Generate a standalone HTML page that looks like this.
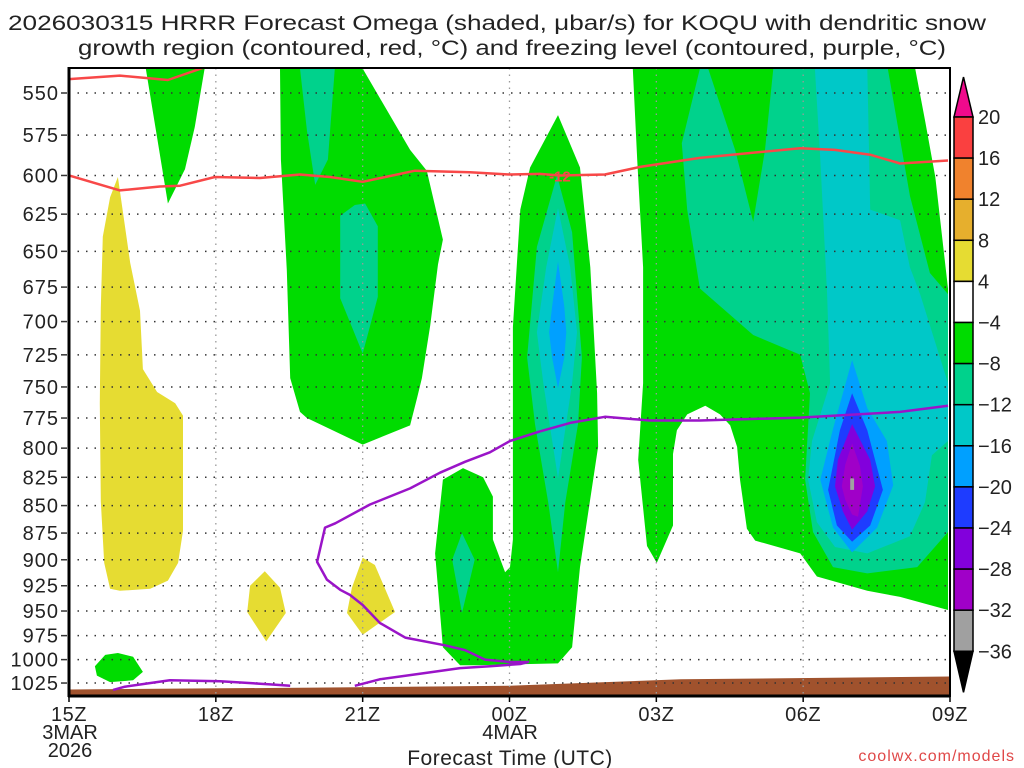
<!DOCTYPE html>
<html><head><meta charset="utf-8"><style>
html,body{margin:0;padding:0;background:#fff;}
svg{display:block;font-family:"Liberation Sans",sans-serif;}
</style></head><body>
<svg id="chart" width="1024" height="768" viewBox="0 0 1024 768" xmlns="http://www.w3.org/2000/svg">
<text x="8" y="30" font-size="21" fill="#222" textLength="978" lengthAdjust="spacingAndGlyphs">2026030315 HRRR Forecast Omega (shaded, μbar/s) for KOQU with dendritic snow</text>
<text x="78" y="55" font-size="21" fill="#222" textLength="868" lengthAdjust="spacingAndGlyphs">growth region (contoured, red, °C) and freezing level (contoured, purple, °C)</text>
<g id="plot"></g>
<g id="axes"></g>
<g id="cbar"></g>
<text x="510" y="765" font-size="21" fill="#222" text-anchor="middle" letter-spacing="0.5">Forecast Time (UTC)</text>
<text x="1015" y="761" font-size="16" fill="#e04848" text-anchor="end" letter-spacing="1">coolwx.com/models</text>
</svg>
<script>
// ---- data ----
const pressureTicks = [550,575,600,625,650,675,700,725,750,775,800,825,850,875,900,925,950,975,1000,1025];
const timeTicks = [0,3,6,9,12,15,18];
const timeLabels = ["15Z","18Z","21Z","00Z","03Z","06Z","09Z"];
const cbarLevels = [20,16,12,8,4,-4,-8,-12,-16,-20,-24,-28,-32,-36];
const cbarColors = ["#fa4040","#f0822d","#e6af2d","#e6dc32","#ffffff","#00dc00","#00d28c","#00c8c8","#00a0ff","#1e3cff","#8200dc","#a000c8","#a0a0a0"];
// terrain surface pressure [hour, hPa]
const terrain = [[0,1032],[5,1030],[9,1028],[12.5,1021],[18,1018]];
// shaded omega regions: [[hour, hPa],...]
const yellowLeft = [[1.0,601],[1.25,658],[1.45,692],[1.51,736],[1.8,754],[2.17,763],[2.33,773],[2.33,873],[2.23,903],[2.02,920],[1.66,928],[1.04,930],[0.84,928],[0.72,903],[0.65,846],[0.63,763],[0.65,690],[0.69,640],[0.84,614]];
const yellow18 = [[4.0,911],[4.31,927],[4.43,952],[4.03,981],[3.64,951],[3.7,925]];
const yellow21 = [[6.0,898],[6.25,905],[6.66,951],[6.0,974],[5.68,952],[5.78,927]];
const greenTopLeft = [[1.57,536],[2.77,536],[2.57,570],[2.37,596],[2.02,618]];
const greenSmall = [[0.53,1007],[0.74,995],[1.0,993],[1.31,997],[1.51,1013],[1.31,1022],[0.84,1024],[0.57,1017]];
const greenMid = [[4.31,536],[6.0,536],[6.97,584],[7.31,597],[7.64,642],[7.54,659],[7.38,703],[7.21,743],[7.11,759],[6.97,781],[6.0,797],[4.86,775],[4.72,770],[4.52,743],[4.45,663],[4.33,590]];
const tealMidTop = [[4.72,536],[5.43,536],[5.29,590],[5.03,606],[4.86,572]];
const tealMid = [[5.54,626],[5.84,619],[6.05,618],[6.31,633],[6.31,682],[6.0,724],[5.54,683]];
const green00 = [[9.99,563],[10.44,595],[10.65,661],[10.79,755],[10.81,799],[10.44,907],[10.28,987],[9.99,1004],[8.3,1006],[7.99,1006],[7.64,987],[7.48,894],[7.64,827],[8.05,817],[8.46,825],[8.66,842],[8.66,881],[8.91,912],[9.01,907],[9.07,881],[9.07,755],[9.07,704],[9.22,622],[9.42,595]];
const teal23 = [[8.03,875],[8.29,900],[8.03,952],[7.83,900]];
const teal00 = [[9.97,600],[10.28,637],[10.48,727],[10.4,780],[10.14,847],[9.99,912],[9.79,847],[9.52,780],[9.36,727],[9.56,647]];
const cyan00 = [[9.99,621],[10.24,661],[10.38,708],[10.28,747],[9.99,826],[9.69,747],[9.56,708],[9.75,661]];
const blue00 = [[9.99,657],[10.12,689],[10.16,708],[10.12,727],[9.99,751],[9.87,727],[9.81,708],[9.87,689]];
const greenRight = [[11.52,536],[17.29,536],[17.49,566],[17.7,601],[17.96,676],[17.96,949],[16.98,936],[16.31,930],[15.28,916],[14.94,894],[14.02,882],[13.85,871],[13.71,827],[13.65,799],[13.51,781],[13.3,772],[13.0,765],[12.63,772],[12.42,785],[12.34,805],[12.34,868],[12.01,903],[11.81,887],[11.63,810],[11.73,747],[11.73,661],[11.61,590]];
const tealRight = [[12.89,536],[13.06,536],[13.61,584],[13.98,630],[14.22,584],[14.39,536],[16.73,536],[17.18,613],[17.59,665],[17.96,680],[17.96,874],[17.33,907],[16.31,913],[15.61,907],[15.2,874],[15.04,827],[15.14,755],[14.94,725],[13.98,710],[12.89,676],[12.63,622],[12.52,580]];
const cyanRight = [[15.24,536],[16.31,536],[16.37,622],[16.98,629],[17.18,661],[17.39,680],[17.96,747],[17.96,794],[17.63,806],[17.49,847],[17.18,878],[16.31,894],[15.65,888],[15.28,865],[15.1,827],[15.18,794],[15.55,747],[15.49,680],[15.35,590]];
const blueRight = [[16.0,729],[16.31,767],[16.71,794],[16.84,832],[16.51,870],[16.0,893],[15.61,870],[15.35,827],[15.61,784]];
const dblueRight = [[16.0,755],[16.31,785],[16.63,836],[16.37,868],[16.0,883],[15.69,868],[15.51,836],[15.75,785]];
const purpleRight = [[16.0,780],[16.37,810],[16.47,833],[16.31,855],[16.0,872],[15.81,855],[15.65,833],[15.71,810]];
const magentaRight = [[16.0,796],[16.16,815],[16.22,833],[16.12,860],[16.0,858],[15.86,845],[15.79,833],[15.86,814]];
const grayRight = [[15.96,826],[16.04,826],[16.04,836],[15.96,836]];
// dendritic growth (-12C) contours
const redTop = [[0,542],[1.04,540],[2.02,542.5],[2.8,535]];
const redMain = [[0,600],[1.04,609.5],[1.86,607],[2.27,606.5],[2.98,601],[3.9,601.6],[4.72,599.4],[5.33,601],[6.0,604],[7.07,597],[8.19,598],[9.01,599.4],[9.62,599],[10.03,600],[10.95,599.4],[11.67,594.6],[12.89,589],[14.94,583],[15.65,584],[16.37,587],[16.98,592.5],[17.96,590.6]];
// freezing level (0C) contours
const frzMain = [[17.96,765],[16.98,770],[14.94,774.6],[12.89,777],[11.87,777],[10.95,774],[10.24,779],[9.62,786],[9.01,794],[8.6,803.5],[8.09,811.6],[7.58,821],[6.97,834.7],[6.15,849],[5.44,866],[5.23,870],[5.07,902],[5.27,919],[5.54,929],[5.74,934],[6.0,944],[6.35,962],[6.87,977],[7.68,985],[8.09,990],[8.5,1000],[9.01,1002.5],[9.38,1002.5],[9.22,1004.6],[8.6,1007],[7.99,1009],[7.17,1015],[6.35,1021],[5.84,1028]];
const frzLow = [[0.9,1032.5],[1.14,1029],[2.06,1022],[3.09,1023],[4.11,1026.5],[4.52,1028]];

// ---- axes functions ----
const X0=69, XW=881, HMAX=18, Y550=93, YS=947.8;
const PBOT=550*Math.exp((696-Y550)/YS);
function xs(h){return X0+h/HMAX*XW;}
function ys(p){return Y550+YS*Math.log(p/550);}
const NS="http://www.w3.org/2000/svg";
function mk(tag,attrs,parent){const e=document.createElementNS(NS,tag);for(const k in attrs)e.setAttribute(k,attrs[k]);parent.appendChild(e);return e;}
const plot=document.getElementById('plot'), axes=document.getElementById('axes'), cbar=document.getElementById('cbar');
const cp=mk('clipPath',{id:'clip'},plot);
mk('rect',{x:69,y:68,width:881,height:628},cp);
const g=mk('g',{'clip-path':'url(#clip)'},plot);
function pts(arr){return arr.map(d=>xs(d[0]).toFixed(1)+','+ys(d[1]).toFixed(1)).join(' ');}
function region(arr,color,name){
  const e=mk('polygon',{points:pts(arr),fill:color},g);
  
  
}
region(yellowLeft,"#e6dc32","omega-positive-left");
region(yellow18,"#e6dc32","omega-positive-18z");
region(yellow21,"#e6dc32","omega-positive-21z");
region(greenTopLeft,"#00dc00","omega-neg4-top-left");
region(greenSmall,"#00dc00","omega-neg4-small");
region(greenMid,"#00dc00","omega-neg4-mid");
region(tealMidTop,"#00d28c","omega-neg8-mid-top");
region(tealMid,"#00d28c","omega-neg8-mid");
region(green00,"#00dc00","omega-neg4-00z");
region(teal23,"#00d28c","omega-neg8-23z");
region(teal00,"#00d28c","omega-neg8-00z");
region(cyan00,"#00c8c8","omega-neg12-00z");
region(blue00,"#00a0ff","omega-neg16-00z");
region(greenRight,"#00dc00","omega-neg4-right");
region(tealRight,"#00d28c","omega-neg8-right");
region(cyanRight,"#00c8c8","omega-neg12-right");
region(blueRight,"#00a0ff","omega-neg16-right");
region(dblueRight,"#1e3cff","omega-neg20-right");
region(purpleRight,"#8200dc","omega-neg24-right");
region(magentaRight,"#a000c8","omega-neg28-right");
region(grayRight,"#a0a0a0","omega-neg32-right");
// terrain
const terr=terrain.concat([[18,PBOT+5],[0,PBOT+5]]);
const tp=mk('polygon',{points:pts(terr),fill:"#a0522d"},g);


// grid
pressureTicks.forEach(p=>{
  const l=mk('line',{x1:69,x2:950,y1:ys(p),y2:ys(p),stroke:"#333","stroke-width":1.5,"stroke-dasharray":"1.5 7"},g);
  
  
});
timeTicks.forEach(h=>{
  const l=mk('line',{x1:xs(h),x2:xs(h),y1:68,y2:696,stroke:"#999","stroke-width":1.3,"stroke-dasharray":"1.5 5"},g);
  
  
});
// lines
function line(arr,color,name){
  const e=mk('polyline',{points:pts(arr),fill:"none",stroke:color,"stroke-width":2.5,"stroke-linejoin":"round"},g);
  
  
}
line(redTop,"#f84848","dendritic-minus12-contour-top");
line(redMain,"#f84848","dendritic-minus12-contour");
line(frzMain,"#9a14c8","freezing-level-contour");
line(frzLow,"#9a14c8","freezing-level-contour-low");
const lbl=mk('text',{x:xs(10.03),y:ys(600)+6,"font-size":15,"font-weight":"bold",fill:"#f84848","text-anchor":"middle"},g);
lbl.textContent="-12";


// frame
mk('rect',{x:69,y:68,width:881,height:628,fill:"none",stroke:"#000","stroke-width":2},axes);
mk('line',{x1:69,x2:69,y1:67,y2:697,stroke:"#000","stroke-width":3},axes);
mk('line',{x1:68,x2:950,y1:696,y2:696,stroke:"#000","stroke-width":3},axes);
pressureTicks.forEach(p=>{
  mk('line',{x1:61,x2:67,y1:ys(p),y2:ys(p),stroke:"#333","stroke-width":1.5},axes);
  const t=mk('text',{x:59,y:ys(p)+7,"font-size":20,fill:"#222","text-anchor":"end","letter-spacing":"1"},axes);
  t.textContent=p;
  
  
});
timeTicks.forEach((h,i)=>{
  mk('line',{x1:xs(h),x2:xs(h),y1:696,y2:702,stroke:"#000","stroke-width":1.5},axes);
  const t=mk('text',{x:xs(h),y:721,"font-size":20,fill:"#222","text-anchor":"middle","letter-spacing":"0.5"},axes);
  t.textContent=timeLabels[i];
  
  
});
[["3MAR",70,739],["2026",70,757],["4MAR",510,739]].forEach(d=>{
  const t=mk('text',{x:d[1],y:d[2],"font-size":20,fill:"#222","text-anchor":"middle"},axes);
  t.textContent=d[0];
  
  
});
// colorbar
const CX=954,CW=19,CTOP=117,CSTEP=41.1;
function cy(i){return CTOP+i*CSTEP;}
const tri1=mk('polygon',{points:`${CX},${CTOP} ${CX+CW},${CTOP} ${CX+CW/2},77`,fill:"#f00a8c",stroke:"#000","stroke-width":1.5},cbar);


cbarColors.forEach((c,i)=>{
  const r=mk('rect',{x:CX,y:cy(i),width:CW,height:CSTEP,fill:c,stroke:"#000","stroke-width":1.5},cbar);
  
  
});
const bot=cy(cbarColors.length);
const tri2=mk('polygon',{points:`${CX},${bot} ${CX+CW},${bot} ${CX+CW/2},${bot+41}`,fill:"#000",stroke:"#000","stroke-width":1.5},cbar);


cbarLevels.forEach((v,i)=>{
  const t=mk('text',{x:978,y:cy(i)+7,"font-size":20,fill:"#222"},cbar);
  t.textContent=v<0?"\u2212"+(-v):String(v);
  
  
});
</script>
</body></html>
